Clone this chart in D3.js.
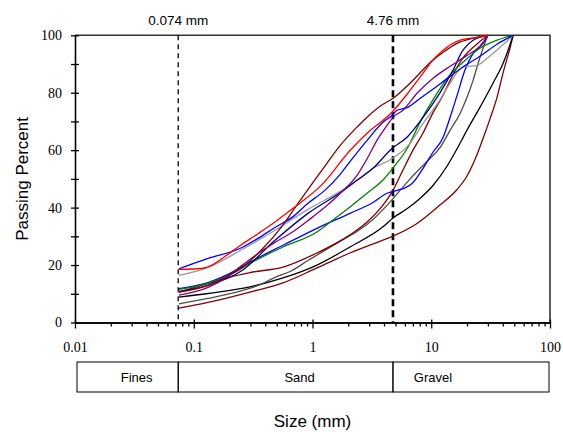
<!DOCTYPE html>
<html>
<head>
<meta charset="utf-8">
<script src="https://cdn.jsdelivr.net/npm/d3@7"></script>
<style>
  body { margin: 0; background: #fff; }
  svg { display: block; }
</style>
</head>
<body>
<div id="chart"></div>
<script>
// grain size curves: [size (mm), percent passing]
const sampleRed = [[0.075,18.5],[0.117,18.8],[0.15,20.5],[0.183,23.0],[0.25,27.0],[0.35,31.0],[0.483,35.0],[0.672,39.5],[1.20,48.0],[2.07,59.9],[2.88,65.9],[4.67,73.2],[6.62,80.8],[8.04,85.4],[10.3,91.3],[12.6,94.8],[17.5,98.3],[24.3,99.3],[30,100]];
const sampleMaroon1 = [[0.075,10.6],[0.132,12.9],[0.183,15.7],[0.255,19.2],[0.376,25.5],[0.553,33.5],[0.755,41.5],[1.0,48.5],[1.3,55.0],[1.7,61.5],[2.3,67.5],[2.88,71.5],[3.92,76.0],[4.67,77.8],[6.62,83.3],[10.3,91.3],[12.6,94.1],[16.5,97.2],[22.5,99.0],[30,100]];
const sampleBlue1 = [[0.075,18.7],[0.132,22.3],[0.255,26.1],[0.348,29.3],[0.483,33.1],[0.672,36.6],[0.916,41.5],[1.27,46.0],[1.71,51.6],[2.07,56.0],[2.88,63.4],[3.92,69.7],[4.67,72.1],[5.15,73.9],[6.25,74.8],[8.04,78.0],[10.3,81.2],[14.4,85.7],[20.0,89.9],[25.7,92.7],[35.8,96.9],[49,100]];
const samplePurple = [[0.075,9.5],[0.132,12.2],[0.183,15.3],[0.255,19.9],[0.348,24.0],[0.483,27.9],[0.672,31.4],[0.916,35.5],[1.27,40.1],[1.71,44.9],[2.37,51.2],[2.88,57.0],[3.49,63.4],[4.24,68.6],[4.76,71.4],[5.78,73.9],[7.59,79.8],[10.3,85.0],[14.4,89.2],[20.0,93.0],[25.7,96.2],[30,100]];
const sampleNavy = [[0.075,10.8],[0.132,12.9],[0.255,18.1],[0.483,28.6],[0.916,38.0],[1.77,45.6],[2.37,49.5],[3.23,53.7],[4.67,60.6],[6.25,64.5],[8.53,71.4],[11.9,80.1],[15.2,87.8],[18.5,94.8],[22.5,98.3],[30,100]];
const sampleGray = [[0.075,16.4],[0.132,19.2],[0.255,25.4],[0.483,32.1],[0.916,39.4],[1.77,46.0],[2.37,49.5],[3.23,53.7],[4.67,57.0],[6.62,62.4],[8.53,69.3],[11.2,76.0],[14.4,83.3],[18.5,89.0],[24.3,89.5],[29.5,92.0],[37.9,95.8],[49,100]];
const sampleGreen = [[0.075,11.5],[0.132,13.6],[0.20,16.5],[0.297,20.6],[0.565,26.3],[1.09,31.5],[1.49,35.7],[2.07,40.2],[2.88,45.0],[3.92,49.6],[4.76,53.8],[6.25,60.5],[8.04,69.7],[10.3,77.4],[13.6,85.0],[18.5,90.6],[25.7,95.5],[35.8,98.3],[49,100]];
const sampleBlue2 = [[0.075,11.8],[0.132,13.9],[0.20,17.0],[0.297,21.0],[0.565,26.9],[1.09,32.8],[2.07,38.0],[3.23,41.8],[4.24,45.0],[5.15,46.0],[6.01,46.9],[6.89,48.4],[8.53,53.7],[10.3,59.2],[12.6,64.5],[14.4,71.4],[16.5,79.1],[19.2,87.8],[22.5,93.7],[27.3,97.2],[30,100]];
const sampleMaroon2 = [[0.075,10.6],[0.132,13.6],[0.20,15.8],[0.297,17.4],[0.565,19.3],[1.09,24.2],[2.07,30.5],[2.88,35.0],[3.92,40.9],[4.67,45.4],[5.78,53.1],[7.02,60.0],[8.53,66.0],[10.3,72.9],[12.6,79.2],[15.2,86.2],[18.5,92.1],[24.3,97.0],[30,100]];
const sampleDarkGray = [[0.075,6.5],[0.132,8.4],[0.255,11.1],[0.348,12.9],[0.483,15.7],[0.672,18.1],[0.916,21.6],[1.27,25.1],[1.88,29.3],[2.37,31.7],[3.23,35.9],[4.67,42.7],[6.25,48.8],[7.59,52.6],[9.21,56.1],[11.9,61.0],[14.4,66.9],[17.5,72.8],[20.0,78.4],[22.5,84.3],[24.8,90.2],[27.3,95.5],[30,100]];
const sampleBlack = [[0.075,8.8],[0.132,10.1],[0.297,12.4],[0.565,15.5],[1.09,20.0],[2.07,26.3],[3.92,33.3],[4.76,36.4],[6.25,39.6],[8.04,43.2],[10.3,47.6],[13.6,54.5],[16.5,60.5],[20.0,67.0],[25.7,74.9],[33.1,83.3],[40.2,90.2],[49,100]];
const sampleMaroon3 = [[0.075,5.0],[0.132,7.0],[0.297,10.6],[0.565,13.8],[1.09,19.0],[2.07,24.2],[3.92,28.7],[4.76,30.1],[7.59,34.5],[11.9,41.0],[16.5,46.3],[20.0,51.0],[24.3,58.5],[27.3,64.1],[31.3,71.0],[35.8,78.4],[40.2,86.8],[46,95.5],[49,100]];

const samples = [sampleMaroon3, sampleBlack, sampleDarkGray, sampleMaroon2, sampleBlue2, sampleGreen,
  sampleGray, sampleNavy, samplePurple, sampleBlue1, sampleMaroon1, sampleRed];
const sampleColors = ["#800000", "#000000", "#4d4d4d", "#800000", "#0000ff", "#008000",
  "#999999", "#000080", "#800080", "#0000ff", "#800000", "#ff0000"];

// axis ticks and class boundaries
const xTickLabels = [0.01, 0.1, 1, 10, 100];
const yTickLabels = [0, 20, 40, 60, 80, 100];
const boundaries = [{ size: 0.074, label: "0.074 mm" }, { size: 4.76, label: "4.76 mm" }];
const soilClasses = [
  { from: 0.01, to: 0.074, label: "Fines" },
  { from: 0.074, to: 4.76, label: "Sand" },
  { from: 4.76, to: 100, label: "Gravel" }
];

const width = 563, height = 432;
const plot = { left: 75, right: 550, top: 35.3, bottom: 322.5 };

const svg = d3.select("#chart").append("svg")
  .attr("width", width)
  .attr("height", height);

const x = d3.scaleLog().domain([0.01, 100]).range([plot.left, plot.right]);
const y = d3.scaleLinear().domain([0, 100]).range([plot.bottom, plot.top]);

// minor log ticks
let minorTicks = [];
for (let e = -2; e < 2; e++) {
  for (let m = 2; m <= 9; m++) minorTicks.push(m * Math.pow(10, e));
}

// frame top / right
svg.append("path")
  .attr("d", `M${plot.left},${y(100)}H${plot.right}V${y(0)}`)
  .attr("fill", "none")
  .attr("stroke", "#333")
  .attr("stroke-width", 1.6);

// x axis
const gx = svg.append("g").attr("transform", `translate(0,${y(0)})`);
gx.call(d3.axisBottom(x).tickValues(minorTicks).tickSize(4).tickSizeOuter(0).tickFormat(""));
gx.call(g => g.append("g").call(d3.axisBottom(x).tickValues(xTickLabels).tickSize(6).tickSizeOuter(0)
  .tickPadding(14).tickFormat(d => d3.format("~g")(d))));
gx.selectAll(".domain").attr("stroke-width", 1.6);
gx.selectAll("line").attr("stroke-width", 1.3);
gx.selectAll(".tick").filter(d => xTickLabels.includes(d)).select("line").attr("y1", -3);
gx.selectAll("text")
  .attr("font-family", "'Liberation Serif', 'Times New Roman', serif")
  .attr("font-size", 14)
  .attr("fill", "#000");

// y axis, ticks cross the axis
const gy = svg.append("g").attr("transform", `translate(${plot.left},0)`);
gy.call(d3.axisLeft(y).tickValues(d3.range(0, 101, 10)).tickSize(4).tickSizeOuter(0).tickPadding(9)
  .tickFormat(d => yTickLabels.includes(d) ? d : ""));
gy.selectAll(".tick line").attr("x2", 4).attr("x1", -4).attr("stroke-width", 1.3);
gy.select(".domain").attr("stroke-width", 1.6);
gy.selectAll("text")
  .attr("font-family", "'Liberation Serif', 'Times New Roman', serif")
  .attr("font-size", 14)
  .attr("fill", "#000");

// boundary lines
boundaries.forEach((b, i) => {
  svg.append("line")
    .attr("x1", x(b.size)).attr("x2", x(b.size))
    .attr("y1", y(100)).attr("y2", y(0))
    .attr("stroke", "#000")
    .attr("stroke-width", i === 0 ? 1.3 : 2.6)
    .attr("stroke-dasharray", i === 0 ? "5,4" : "7,4");
  svg.append("text")
    .attr("x", x(b.size)).attr("y", 25)
    .attr("text-anchor", "middle")
    .attr("font-family", "'Liberation Sans', Arial, sans-serif")
    .attr("font-size", 13.5)
    .text(b.label);
});

// curves
const line = d3.line()
  .x(d => x(d[0]))
  .y(d => y(d[1]))
  .curve(d3.curveMonotoneX);

svg.append("g")
  .selectAll("path")
  .data(samples)
  .enter()
  .append("path")
  .attr("fill", "none")
  .attr("stroke", (d, i) => sampleColors[i])
  .attr("stroke-width", 1.3)
  .attr("stroke-linejoin", "round")
  .attr("d", line);

// soil classification bar
const bandTop = 362, bandBottom = 392;
const labelShift = [10, 14, 40];
const bands = svg.append("g");
soilClasses.forEach((c, i) => {
  bands.append("rect")
    .attr("x", x(c.from) + (i === 0 ? 2 : 0))
    .attr("y", bandTop)
    .attr("width", x(c.to) - x(c.from) - (i === 0 ? 2 : 0) - (i === 2 ? 1 : 0))
    .attr("height", bandBottom - bandTop)
    .attr("fill", "none")
    .attr("stroke", "#000")
    .attr("stroke-width", 1);
  const cx = i === 2 ? x(c.from) + labelShift[i] : (x(c.from) + x(c.to)) / 2 + labelShift[i];
  bands.append("text")
    .attr("x", cx)
    .attr("y", bandBottom - 10)
    .attr("text-anchor", "middle")
    .attr("font-family", "'Liberation Sans', Arial, sans-serif")
    .attr("font-size", 13)
    .text(c.label);
});

// axis titles
svg.append("text")
  .attr("x", (plot.left + plot.right) / 2)
  .attr("y", 427)
  .attr("text-anchor", "middle")
  .attr("font-family", "'Liberation Sans', Arial, sans-serif")
  .attr("font-size", 17)
  .text("Size (mm)");

svg.append("text")
  .attr("transform", `translate(28,${(plot.top + plot.bottom) / 2}) rotate(-90)`)
  .attr("text-anchor", "middle")
  .attr("font-family", "'Liberation Sans', Arial, sans-serif")
  .attr("font-size", 17)
  .text("Passing Percent");
</script>
</body>
</html>
